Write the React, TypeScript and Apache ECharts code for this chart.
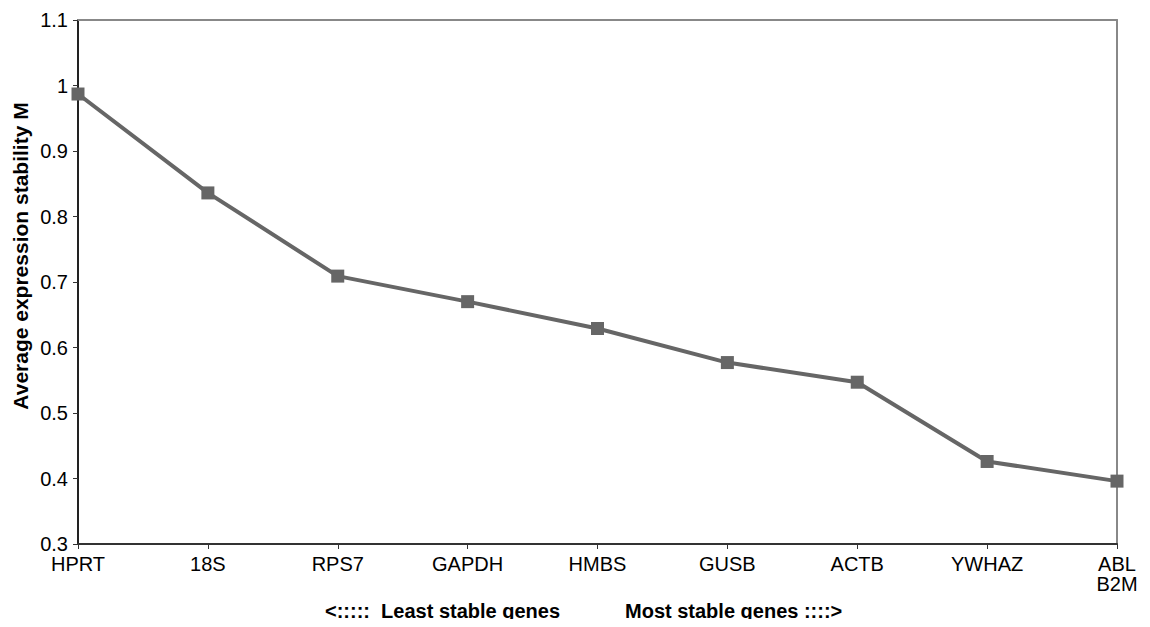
import React, { useEffect, useRef } from "react";
import * as echarts from "echarts";

const genes = ["HPRT", "18S", "RPS7", "GAPDH", "HMBS", "GUSB", "ACTB", "YWHAZ", "ABL\nB2M"];
const stabilityM = [0.987, 0.836, 0.709, 0.67, 0.629, 0.577, 0.547, 0.426, 0.396];
const yTitle = "Average expression stability M";
const leftNote = "<:::::  Least stable genes";
const rightNote = "Most stable genes ::::>";

const FONT = 'Arial, "Liberation Sans", sans-serif';

export default function App() {
  const ref = useRef<HTMLDivElement>(null);
  useEffect(() => {
    if (!ref.current) return;
    const chart = echarts.init(ref.current, undefined, { renderer: "svg" });
    chart.setOption({
      animation: false,
      backgroundColor: "#ffffff",
      grid: { left: 78, right: 33, top: 20, bottom: 83, containLabel: false },
      xAxis: [
        {
          type: "category",
          data: genes,
          boundaryGap: false,
          position: "bottom",
          axisLine: { show: true, lineStyle: { color: "#333333", width: 2 } },
          axisTick: { show: true, inside: false, length: 5, alignWithLabel: true, lineStyle: { color: "#333333", width: 1 } },
          axisLabel: {
            color: "#000000",
            fontFamily: FONT,
            fontSize: 20,
            lineHeight: 20,
            margin: 10,
            interval: 0,
          },
          splitLine: { show: false },
        },
        {
          type: "category",
          data: genes,
          boundaryGap: false,
          position: "top",
          axisLine: { show: true, lineStyle: { color: "#888888", width: 2 } },
          axisTick: { show: false },
          axisLabel: { show: false },
          splitLine: { show: false },
        },
      ],
      yAxis: [
        {
          type: "value",
          min: 0.3,
          max: 1.1,
          interval: 0.1,
          position: "left",
          axisLine: { show: true, lineStyle: { color: "#222222", width: 2 } },
          axisTick: { show: true, inside: false, length: 5, lineStyle: { color: "#333333", width: 1 } },
          axisLabel: {
            color: "#000000",
            fontFamily: FONT,
            fontSize: 20,
            margin: 10,
            formatter: (v: number) => String(Math.round(v * 10) / 10),
          },
          splitLine: { show: false },
        },
        {
          type: "value",
          min: 0.3,
          max: 1.1,
          interval: 0.1,
          position: "right",
          axisLine: { show: true, lineStyle: { color: "#888888", width: 2 } },
          axisTick: { show: false },
          axisLabel: { show: false },
          splitLine: { show: false },
        },
      ],
      series: [
        {
          type: "line",
          data: stabilityM,
          xAxisIndex: 0,
          yAxisIndex: 0,
          symbol: "rect",
          symbolSize: 13,
          showAllSymbol: true,
          lineStyle: { color: "#666666", width: 4 },
          itemStyle: { color: "#666666", borderWidth: 0 },
          z: 5,
        },
      ],
      graphic: [
        {
          type: "text",
          x: 20,
          y: 256,
          rotation: Math.PI / 2,
          style: {
            text: yTitle,
            fill: "#000000",
            font: `bold 21px ${FONT}`,
            align: "center",
            verticalAlign: "middle",
          },
        },
        {
          type: "text",
          left: 325,
          top: 601,
          style: { text: leftNote, fill: "#000000", font: `bold 20px ${FONT}` },
        },
        {
          type: "text",
          left: 625,
          top: 601,
          style: { text: rightNote, fill: "#000000", font: `bold 20px ${FONT}` },
        },
      ],
    });
    return () => chart.dispose();
  }, []);
  return <div ref={ref} style={{ width: 1150, height: 627, margin: -8 }} />;
}
